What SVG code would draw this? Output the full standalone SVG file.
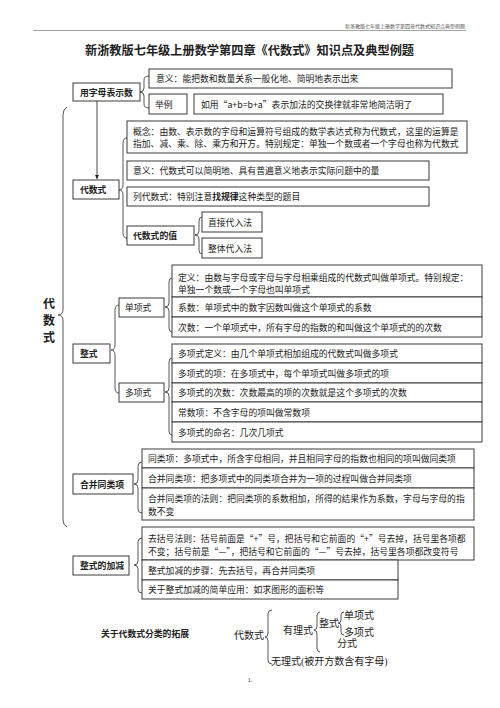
<svg xmlns="http://www.w3.org/2000/svg" width="500" height="708" viewBox="0 0 500 708">
<style>
text{font-family:"Noto Sans CJK SC","Noto Sans",sans-serif;fill:#222;}
.t{font-size:8.8px;}
.b{font-size:8.8px;font-weight:bold;}
.box{fill:#fff;stroke:#3a3a3a;stroke-width:1;}
.br{fill:none;stroke:#444;stroke-width:0.9;}
.cl{font-family:"Liberation Serif","Noto Sans CJK SC",serif;font-size:10px;}
.v{font-size:12px;font-weight:bold;}
</style>
<defs>
<marker id="ah" viewBox="0 0 10 10" refX="10" refY="5" markerWidth="5" markerHeight="5" orient="auto"><path d="M0,0 L10,5 L0,10 z" fill="#222"/></marker>
</defs>
<rect width="500" height="708" fill="#fff"/>
<g id="header">
<line x1="33" y1="30.5" x2="466" y2="30.5" stroke="#666" stroke-width="0.6"/>
<text x="465" y="27.5" text-anchor="end" style="font-size:5px;fill:#555">新浙教版七年级上册数学第四章代数式知识点典型例题</text>
<text x="249.5" y="55" text-anchor="middle" style="font-size:12.2px;font-weight:bold">新浙教版七年级上册数学第四章《代数式》知识点及典型例题</text>
</g>
<g id="connectors">
<line x1="97" y1="101" x2="97" y2="179" stroke="#333" stroke-width="0.9" marker-end="url(#ah)"/>
<path class="br" d="M67,107 Q63,109 63,115 L63,309 Q63,315 58,315 Q63,315 63,321 L63,520 Q63,525 67,527"/>
<path class="br" d="M149,76 Q144,76 144,80 L144,88 Q144,92 140,92 Q144,92 144,96 L144,104 Q144,108 149,108"/>
<path class="br" d="M127,138 Q123,138 123,143 L123,185 Q123,190 119,190 Q123,190 123,195 L123,233 Q123,238 127,238"/>
<path class="br" d="M202,217 Q199,217 199,221 L199,231 Q199,235 195,235 Q199,235 199,239 L199,250 Q199,254 202,254"/>
<path class="br" d="M119,305 Q115,305 115,310 L115,345 Q115,350 111,350 Q115,350 115,355 L115,388 Q115,393 119,393"/>
<path class="br" d="M172,278 Q169,278 169,282 L169,303 Q169,307 165,307 Q169,307 169,311 L169,328 Q169,332 172,332"/>
<path class="br" d="M172,358 Q169,358 169,362 L169,388 Q169,392 165,392 Q169,392 169,396 L169,431 Q169,435 172,435"/>
<path class="br" d="M142,462 Q138,462 138,466 L138,480 Q138,484 134,484 Q138,484 138,488 L138,509 Q138,513 142,513"/>
<path class="br" d="M142,538 Q138,538 138,542 L138,561 Q138,565 134,565 Q138,565 138,569 L138,589 Q138,593 142,593"/>
</g>
<g id="title-vertical">
<text class="v" x="49" y="308" text-anchor="middle">代</text>
<text class="v" x="49" y="325" text-anchor="middle">数</text>
<text class="v" x="49" y="342" text-anchor="middle">式</text>
</g>
<g id="n-yongzimu">
<rect class="box" x="73" y="83" width="67" height="18"/>
<text class="b" x="80" y="95.5">用字母表示数</text>
</g>
<g id="n-yiyi1">
<rect class="box" x="149" y="69" width="303" height="19"/>
<text class="t" x="156" y="81.5">意义：能把数和数量关系一般化地、简明地表示出来</text>
</g>
<g id="n-juli">
<rect class="box" x="149" y="94" width="38" height="20"/>
<text class="t" x="155" y="107.5">举例</text>
</g>
<g id="n-ruyong">
<rect class="box" x="194" y="94" width="249" height="20"/>
<text class="t" x="201" y="107.5">如用“a+b=b+a”表示加法的交换律就非常地简洁明了</text>
</g>
<g id="n-daishushi">
<rect class="box" x="73" y="180" width="46" height="19"/>
<text class="b" x="80" y="193">代数式</text>
</g>
<g id="n-gainian">
<rect class="box" x="127" y="121" width="340" height="32"/>
<text class="t" x="133" y="134.5">概念：由数、表示数的字母和运算符号组成的数学表达式称为代数式，这里的运算是</text>
<text class="t" x="133" y="146.5">指加、减、乘、除、乘方和开方。特别规定：单独一个数或者一个字母也称为代数式</text>
</g>
<g id="n-yiyi2">
<rect class="box" x="127" y="161" width="302" height="19"/>
<text class="t" x="133" y="173.5">意义：代数式可以简明地、具有普遍意义地表示实际问题中的量</text>
</g>
<g id="n-lie">
<rect class="box" x="127" y="187" width="302" height="19"/>
<text class="t" x="133" y="199.5">列代数式：特别注意<tspan style="font-weight:bold">找规律</tspan>这种类型的题目</text>
</g>
<g id="n-zhi">
<rect class="box" x="127" y="226" width="67" height="19"/>
<text class="b" x="133" y="238.5">代数式的值</text>
</g>
<g id="n-zhijie">
<rect class="box" x="202" y="212" width="60" height="20"/>
<text class="t" x="208" y="225.5">直接代入法</text>
</g>
<g id="n-zhengti">
<rect class="box" x="202" y="238" width="60" height="20"/>
<text class="t" x="208" y="251.5">整体代入法</text>
</g>
<g id="n-zhengshi">
<rect class="box" x="73" y="344" width="37" height="19"/>
<text class="b" x="80" y="357">整式</text>
</g>
<g id="n-danxiangshi">
<rect class="box" x="119" y="298" width="45" height="19"/>
<text class="t" x="125" y="311">单项式</text>
</g>
<g id="n-duoxiangshi">
<rect class="box" x="119" y="383" width="45" height="19"/>
<text class="t" x="125" y="396">多项式</text>
</g>
<g id="n-dan-dingyi">
<rect class="box" x="172" y="265" width="310" height="32"/>
<text class="t" x="178" y="280.5">定义：由数与字母或字母与字母相乘组成的代数式叫做单项式。特别规定：</text>
<text class="t" x="178" y="292.5">单独一个数或一个字母也叫单项式</text>
</g>
<g id="n-xishu">
<rect class="box" x="172" y="297" width="310" height="20"/>
<text class="t" x="178" y="310.5">系数：单项式中的数字因数叫做这个单项式的系数</text>
</g>
<g id="n-cishu">
<rect class="box" x="172" y="317" width="310" height="20"/>
<text class="t" x="178" y="330.5">次数：一个单项式中，所有字母的指数的和叫做这个单项式的的次数</text>
</g>
<g id="n-duo-dingyi">
<rect class="box" x="172" y="344" width="310" height="19"/>
<text class="t" x="178" y="357">多项式定义：由几个单项式相加组成的代数式叫做多项式</text>
</g>
<g id="n-duo-xiang">
<rect class="box" x="172" y="363" width="310" height="20"/>
<text class="t" x="178" y="376.5">多项式的项：在多项式中，每个单项式叫做多项式的项</text>
</g>
<g id="n-duo-cishu">
<rect class="box" x="172" y="383" width="310" height="19"/>
<text class="t" x="178" y="396">多项式的次数：次数最高的项的次数就是这个多项式的次数</text>
</g>
<g id="n-changshu">
<rect class="box" x="172" y="402" width="310" height="20"/>
<text class="t" x="178" y="415.5">常数项：不含字母的项叫做常数项</text>
</g>
<g id="n-mingming">
<rect class="box" x="172" y="422" width="310" height="20"/>
<text class="t" x="178" y="435.5">多项式的命名：几次几项式</text>
</g>
<g id="n-hebing">
<rect class="box" x="73" y="474" width="60" height="20"/>
<text class="b" x="80" y="487.5">合并同类项</text>
</g>
<g id="n-tonglei">
<rect class="box" x="142" y="449" width="332" height="19"/>
<text class="t" x="148" y="461.5">同类项：多项式中，所含字母相同，并且相同字母的指数也相同的项叫做同类项</text>
</g>
<g id="n-hebing2">
<rect class="box" x="142" y="468" width="332" height="20"/>
<text class="t" x="148" y="481.5">合并同类项：把多项式中的同类项合并为一项的过程叫做合并同类项</text>
</g>
<g id="n-faze">
<rect class="box" x="142" y="488" width="332" height="32"/>
<text class="t" x="148" y="501.5">合并同类项的法则：把同类项的系数相加，所得的结果作为系数，字母与字母的指</text>
<text class="t" x="148" y="514.5">数不变</text>
</g>
<g id="n-jiajian">
<rect class="box" x="73" y="556" width="56" height="19"/>
<text class="b" x="80" y="569">整式的加减</text>
</g>
<g id="n-qukuohao">
<rect class="box" x="142" y="527" width="332" height="33"/>
<text class="t" x="148" y="541.5">去括号法则：括号前面是“+”号，把括号和它前面的“+”号去掉，括号里各项都</text>
<text class="t" x="148" y="554.5">不变；括号前是“—”，把括号和它前面的“—”号去掉，括号里各项都改变符号</text>
</g>
<g id="n-buzhou">
<rect class="box" x="142" y="560" width="256" height="20"/>
<text class="t" x="148" y="573.5">整式加减的步骤：先去括号，再合并同类项</text>
</g>
<g id="n-yingyong">
<rect class="box" x="142" y="580" width="256" height="19"/>
<text class="t" x="148" y="592.5">关于整式加减的简单应用：如求图形的面积等</text>
</g>
<g id="classification">
<text class="b" x="101" y="637">关于代数式分类的拓展</text>
<text class="cl" x="234" y="639">代数式</text>
<path class="br" d="M272,610 Q268,610 268,614 L268,633 Q268,637 265,637 Q268,637 268,641 L268,660 Q268,664 272,664"/>
<text class="cl" x="283" y="634">有理式</text>
<path class="br" d="M320,612 Q317,612 317,616 L317,626 Q317,630 314,630 Q317,630 317,634 L317,648 Q317,652 320,652"/>
<text class="cl" x="319" y="627">整式</text>
<path class="br" d="M344,612 Q341,612 341,615 L341,620 Q341,623 338,623 Q341,623 341,626 L341,632 Q341,635 344,635"/>
<text class="cl" x="344" y="619">单项式</text>
<text class="cl" x="344" y="636">多项式</text>
<text class="cl" x="337" y="647">分式</text>
<text class="cl" x="271" y="665">无理式(被开方数含有字母)</text>
</g>
<text x="250" y="682" text-anchor="middle" style="font-family:'Liberation Serif',serif;font-size:6px">1.</text>
</svg>
